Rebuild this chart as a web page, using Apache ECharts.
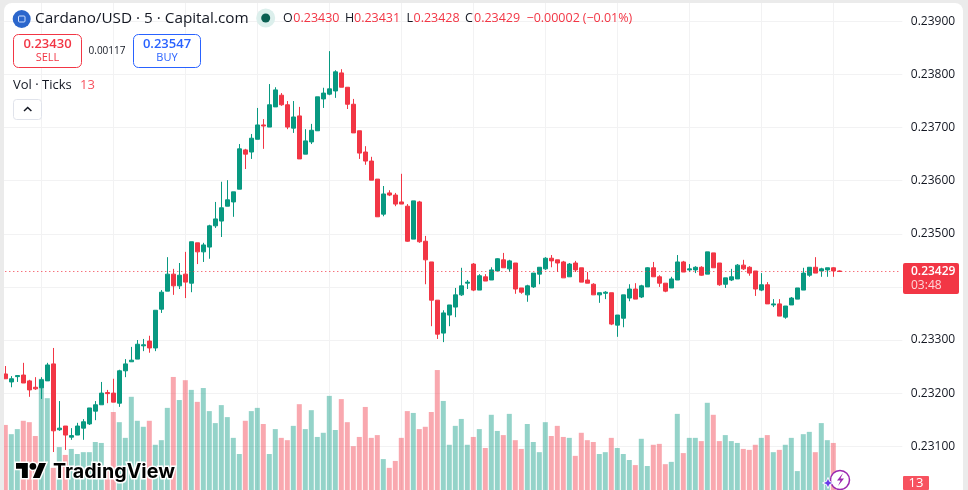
<!DOCTYPE html>
<html><head><meta charset="utf-8">
<style>
html,body{margin:0;padding:0;width:968px;height:490px;overflow:hidden;background:#ebebeb}
#c{position:absolute;left:4px;top:3px;width:959px;height:487px;background:#fff;border-radius:8px 8px 0 0;overflow:hidden}
</style>
<script src="https://cdn.jsdelivr.net/npm/echarts@6/dist/echarts.min.js"></script>
</head><body><div id="c"></div>
<script>
const tickLabels=[0.239,0.238,0.237,0.236,0.235,0.233,0.232,0.231];
const lastPrice=0.23429;
const open=[0.23236,0.23221,0.23231,0.23234,0.23223,0.23211,0.23210,0.23223,0.23255,0.23131,0.23138,0.23117,0.23121,0.23134,0.23142,0.23166,0.23178,0.23201,0.23200,0.23181,
0.23242,0.23259,0.23264,0.23289,0.23298,0.23285,0.23358,0.23392,0.23424,0.23402,0.23424,0.23407,0.23483,0.23466,0.23475,0.23515,0.23524,0.23552,0.23560,0.23584,
0.23658,0.23654,0.23678,0.23705,0.23701,0.23739,0.23761,0.23743,0.23699,0.23722,0.23650,0.23673,0.23694,0.23754,0.23763,0.23769,0.23803,0.23776,0.23744,0.23694,
0.23654,0.23637,0.23603,0.23537,0.23577,0.23573,0.23560,0.23552,0.23490,0.23560,0.23486,0.23447,0.23375,0.23313,0.23347,0.23362,0.23385,0.23407,0.23443,0.23394,
0.23419,0.23413,0.23430,0.23451,0.23434,0.23445,0.23398,0.23385,0.23400,0.23424,0.23434,0.23454,0.23451,0.23447,0.23419,0.23445,0.23436,0.23413,0.23405,0.23385,
0.23388,0.23389,0.23328,0.23341,0.23379,0.23396,0.23381,0.23400,0.23436,0.23419,0.23407,0.23398,0.23413,0.23447,0.23432,0.23432,0.23437,0.23424,0.23464,0.23445,
0.23405,0.23413,0.23415,0.23441,0.23437,0.23430,0.23394,0.23404,0.23366,0.23368,0.23343,0.23366,0.23377,0.23394,0.23422,0.23437,0.23430,0.23432,0.23436,0.23430];
const close=[0.23227,0.23227,0.23233,0.23219,0.23206,0.23208,0.23225,0.23253,0.23129,0.23134,0.23121,0.23120,0.23138,0.23146,0.23172,0.23178,0.23200,0.23199,0.23183,0.23242,
0.23255,0.23262,0.23292,0.23291,0.23285,0.23356,0.23390,0.23424,0.23402,0.23422,0.23409,0.23485,0.23466,0.23479,0.23515,0.23528,0.23549,0.23564,0.23579,0.23660,
0.23650,0.23680,0.23705,0.23703,0.23743,0.23771,0.23743,0.23701,0.23720,0.23641,0.23675,0.23695,0.23758,0.23765,0.23773,0.23805,0.23776,0.23744,0.23690,0.23652,
0.23637,0.23601,0.23532,0.23575,0.23573,0.23556,0.23556,0.23486,0.23562,0.23485,0.23451,0.23375,0.23311,0.23351,0.23366,0.23385,0.23402,0.23409,0.23394,0.23421,
0.23411,0.23432,0.23453,0.23436,0.23449,0.23396,0.23390,0.23402,0.23426,0.23437,0.23454,0.23449,0.23445,0.23417,0.23443,0.23432,0.23409,0.23407,0.23385,0.23389,
0.23390,0.23330,0.23347,0.23385,0.23396,0.23377,0.23402,0.23436,0.23419,0.23407,0.23392,0.23415,0.23447,0.23428,0.23434,0.23437,0.23422,0.23466,0.23436,0.23404,
0.23417,0.23419,0.23441,0.23434,0.23426,0.23396,0.23404,0.23368,0.23368,0.23345,0.23364,0.23379,0.23398,0.23426,0.23437,0.23426,0.23434,0.23436,0.23430,0.23429];
const low=[0.23227,0.23211,0.23221,0.23219,0.23193,0.23206,0.23189,0.23223,0.23089,0.23129,0.23093,0.23112,0.23121,0.23112,0.23140,0.23149,0.23178,0.23181,0.23183,0.23174,
0.23230,0.23259,0.23264,0.23279,0.23276,0.23279,0.23351,0.23392,0.23385,0.23396,0.23379,0.23390,0.23443,0.23447,0.23453,0.23511,0.23494,0.23552,0.23532,0.23584,
0.23622,0.23641,0.23678,0.23660,0.23701,0.23739,0.23741,0.23697,0.23690,0.23641,0.23650,0.23669,0.23694,0.23737,0.23761,0.23756,0.23776,0.23735,0.23690,0.23641,
0.23630,0.23601,0.23532,0.23533,0.23571,0.23552,0.23556,0.23485,0.23490,0.23483,0.23405,0.23326,0.23302,0.23296,0.23326,0.23343,0.23383,0.23396,0.23392,0.23394,
0.23411,0.23413,0.23430,0.23436,0.23428,0.23387,0.23387,0.23372,0.23398,0.23405,0.23432,0.23437,0.23428,0.23417,0.23419,0.23428,0.23409,0.23407,0.23385,0.23370,
0.23377,0.23328,0.23306,0.23324,0.23373,0.23377,0.23379,0.23400,0.23419,0.23400,0.23390,0.23398,0.23413,0.23428,0.23428,0.23426,0.23421,0.23424,0.23436,0.23402,
0.23398,0.23411,0.23415,0.23432,0.23421,0.23383,0.23392,0.23368,0.23362,0.23345,0.23340,0.23366,0.23377,0.23394,0.23419,0.23426,0.23419,0.23419,0.23419,0.23428];
const high=[0.23251,0.23232,0.23234,0.23257,0.23225,0.23230,0.23230,0.23257,0.23285,0.23185,0.23138,0.23134,0.23144,0.23151,0.23172,0.23185,0.23221,0.23206,0.23227,0.23244,
0.23264,0.23287,0.23300,0.23302,0.23308,0.23356,0.23394,0.23456,0.23434,0.23445,0.23466,0.23485,0.23483,0.23483,0.23517,0.23560,0.23598,0.23601,0.23579,0.23669,
0.23660,0.23688,0.23737,0.23716,0.23782,0.23776,0.23765,0.23750,0.23750,0.23739,0.23697,0.23707,0.23758,0.23775,0.23844,0.23808,0.23810,0.23776,0.23754,0.23694,
0.23665,0.23645,0.23603,0.23590,0.23582,0.23577,0.23613,0.23556,0.23562,0.23562,0.23496,0.23447,0.23375,0.23356,0.23366,0.23398,0.23436,0.23413,0.23445,0.23424,
0.23424,0.23437,0.23454,0.23464,0.23451,0.23445,0.23398,0.23404,0.23426,0.23437,0.23456,0.23460,0.23451,0.23449,0.23445,0.23449,0.23436,0.23428,0.23407,0.23389,
0.23392,0.23389,0.23347,0.23385,0.23405,0.23407,0.23404,0.23437,0.23447,0.23422,0.23407,0.23419,0.23460,0.23449,0.23443,0.23439,0.23439,0.23466,0.23464,0.23445,
0.23417,0.23434,0.23443,0.23451,0.23439,0.23430,0.23426,0.23409,0.23377,0.23377,0.23364,0.23381,0.23398,0.23436,0.23437,0.23456,0.23436,0.23436,0.23437,0.23431];
const volume=[141,121,132,150,147,117,241,199,48,93,76,89,78,82,82,104,102,43,169,147,
113,202,150,137,150,98,108,178,245,195,238,217,191,221,171,145,184,158,113,78,
150,171,178,143,78,132,113,108,139,186,132,173,115,124,204,130,197,147,95,115,
180,113,119,67,48,63,113,171,167,132,137,169,260,193,98,139,154,98,115,132,
91,163,128,119,165,108,89,143,104,82,147,117,139,115,113,74,124,108,104,78,
82,113,91,78,65,54,111,52,98,100,56,61,165,80,113,113,106,189,163,106,
119,106,102,89,87,98,113,119,82,87,98,113,41,121,126,82,145,108,102,13];
const categories=Array.from({length:150},(_,i)=>String(i));

const UP='#089981',DOWN='#F23645',FONT='"Open Sans","Noto Sans",sans-serif',INK='#131722';
const ox=4,oy=3;
const candle=open.map((o,i)=>[o,close[i],low[i],high[i]]);
const volData=volume.map((v,i)=>({value:v,itemStyle:{color:close[i]>open[i]?'rgba(8,153,129,0.43)':'rgba(242,54,69,0.43)'}}));

function T(x,y,text,fill,size,extra){return {type:'text',silent:true,z:50,x:x-ox,y:y-oy,style:Object.assign({text,fill,font:`${size}px ${FONT}`,verticalAlign:'middle',align:'left'},extra||{})};}
function R(x,y,w,h,r,fill,stroke){return {type:'rect',silent:true,z:49,shape:{x:x-ox,y:y-oy,width:w,height:h,r},style:{fill,stroke,lineWidth:stroke?1:0}};}
function C(x,y,r,fill,stroke,lw){return {type:'circle',silent:true,z:49,shape:{cx:x-ox,cy:y-oy,r},style:{fill,stroke,lineWidth:stroke?(lw||1.5):0}};}
function P(pts,fill,stroke,lw,z){return {type:'polygon',silent:true,z:z||50,shape:{points:pts.map(p=>[p[0]-ox,p[1]-oy])},style:{fill,stroke,lineWidth:lw||0}};}
const lx=p=>16+p*30/35.5, ly=p=>463+(p-4)*15/18;
const logoT=[[0,4],[14,4],[14,22],[7,22],[7,11],[0,11]].map(p=>[lx(p[0]),ly(p[1])]);
const logoV=[[27.5,4],[35.5,4],[28,22],[20,22]].map(p=>[lx(p[0]),ly(p[1])]);
const hd=DOWN;
const graphics=[
 C(21.7,19,9,'#2b66cc'),
 R(18.5,16,6.5,6,1,'rgba(0,0,0,0)','#cfe0ff'),
 T(35,19,'Cardano/USD · 5 · Capital.com',INK,15.3),
 C(265.7,18,9.5,'#dcefec'),C(265.7,18,4.5,'#0a5f52'),
 T(283,18,'O',INK,12.5),T(293.3,18,'0.23430',hd,12.5),
 T(345,18,'H',INK,12.5),T(354,18,'0.23431',hd,12.5),
 T(406.5,18,'L',INK,12.5),T(413.5,18,'0.23428',hd,12.5),
 T(465,18,'C',INK,12.5),T(474,18,'0.23429',hd,12.5),
 T(526.5,18,'−0.00002',hd,12.5),T(582.7,18,'(−0.01%)',hd,12.5),
 R(13.5,34.5,68,33,5,'#fff',DOWN),
 T(47.5,44,'0.23430',DOWN,13,{align:'center',font:`600 13px ${FONT}`}),
 T(47.5,58,'SELL',DOWN,11,{align:'center'}),
 T(107,51,'0.00117',INK,10,{align:'center'}),
 R(133.5,34.5,67,33,5,'#fff','#2962FF'),
 T(167,44,'0.23547','#2962FF',13,{align:'center',font:`600 13px ${FONT}`}),
 T(167,58,'BUY','#2962FF',11,{align:'center'}),
 T(13,85,'Vol · Ticks',INK,13),T(80,85,'13','#F7525F',13),
 R(13.5,99.5,28,20,3,'#fff','#e0e3eb'),
 {type:'polyline',silent:true,z:50,shape:{points:[[24-ox,111-oy],[27.7-ox,107.5-oy],[31.4-ox,111-oy]]},style:{stroke:INK,lineWidth:1.5,fill:null}},
 R(903,263,56,31,2,DOWN),
 T(911,271.5,'0.23429','#fff',12,{font:`600 12px ${FONT}`}),
 T(911,285.5,'03:48','rgba(255,255,255,0.8)',12),
 R(903,476,26,14,1,'#F7525F'),
 T(916,483.5,'13','#fff',13,{align:'center'}),
 P(logoT,'#000','#fff',3,48),P(logoV,'#000','#fff',3,48),C(lx(20),ly(8),3.4,'#000','#fff',3),
 P(logoT,'#000',null,0,51),P(logoV,'#000',null,0,51),
 Object.assign(C(lx(20),ly(8),3.4,'#000'),{z:51}),
 T(53,472,'TradingView','#000',19.7,{font:`700 19.7px Inter,${FONT}`,stroke:'#fff',lineWidth:3}),
 C(840,480,9.5,'#fff','#9c27b0'),
 P([[843,473],[837,480.5],[840.5,480.5],[838,486],[844,478.5],[840.5,478.5]],'#9c27b0'),
 P([[828,477.5],[829.6,481.4],[833.5,483],[829.6,484.6],[828,488.5],[826.4,484.6],[822.5,483],[826.4,481.4]],'#6a3de8','#fff',1)
];
const chart=echarts.init(document.getElementById('c'),null,{renderer:'canvas'});
chart.setOption({
 animation:false,backgroundColor:'transparent',
 grid:[
  {left:2.3-ox,width:900,top:-31.7-oy,height:531,containLabel:false,outerBoundsMode:'none'},
  {left:2.3-ox,width:900,top:0-oy,height:490,containLabel:false,outerBoundsMode:'none'}
 ],
 xAxis:[
  {type:'category',gridIndex:0,data:categories,boundaryGap:true,axisLine:{show:false},axisTick:{show:false},axisLabel:{show:false},
   splitLine:{show:true,alignWithLabel:true,interval:(i)=>(i-6)%12===0,lineStyle:{color:'#f2f2f3',width:1}}},
  {type:'category',gridIndex:1,data:categories,boundaryGap:true,axisLine:{show:false},axisTick:{show:false},axisLabel:{show:false},splitLine:{show:false}}
 ],
 yAxis:[
  {type:'value',gridIndex:0,position:'right',min:0.23,max:0.24,interval:0.001,axisLine:{show:false},axisTick:{show:false},
   axisLabel:{margin:8.5,color:INK,fontFamily:FONT,fontSize:12,formatter:v=>tickLabels.some(t=>Math.abs(t-v)<1e-7)?v.toFixed(5):''},
   splitLine:{show:true,lineStyle:{color:'#f2f2f3',width:1}}},
  {type:'value',gridIndex:1,position:'right',min:0,max:1062,axisLine:{show:false},axisTick:{show:false},axisLabel:{show:false},splitLine:{show:false}}
 ],
 series:[
  {type:'bar',name:'Vol',xAxisIndex:1,yAxisIndex:1,data:volData,barWidth:5,z:2,silent:true},
  {type:'candlestick',name:'Cardano/USD',xAxisIndex:0,yAxisIndex:0,data:candle,barWidth:4,clip:false,z:3,silent:true,
   itemStyle:{color:UP,color0:DOWN,borderColor:UP,borderColor0:DOWN,borderWidth:1}},
  {type:'line',name:'Last price',xAxisIndex:0,yAxisIndex:0,data:[[0,lastPrice],[149,lastPrice]],showSymbol:false,symbol:'none',silent:true,z:4,
   lineStyle:{color:DOWN,type:[1,3],width:1}}
 ],
 graphic:graphics
});
</script></body></html>
